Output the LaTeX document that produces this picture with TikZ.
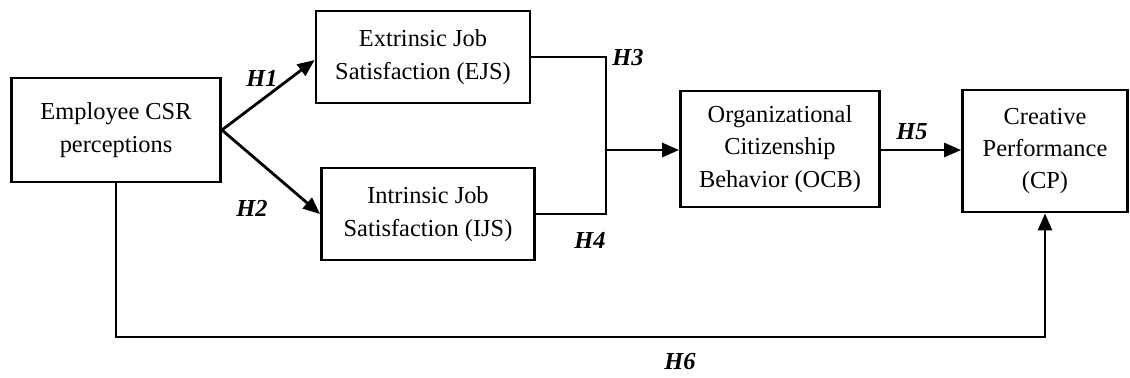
\documentclass[tikz,border=0pt]{standalone}
\usepackage{fontspec}
\setmainfont{Liberation Serif}
\usetikzlibrary{positioning, arrows.meta}

\begin{document}
\begin{tikzpicture}[
  x=0.5pt, y=-0.5pt, ->, >={Triangle[length=8.5pt,width=7pt]}, line width=1.4pt,
  box/.style={rectangle, draw=black, line width=1.4pt, align=center, inner sep=2pt,
    font=\fontsize{12.2}{16.2}\selectfont},
  hyp/.style={font=\fontsize{12.2}{14}\selectfont\bfseries\itshape}
]
\useasboundingbox (0,0) rectangle (1130,377);

% constructs
\node[box, minimum width=104.5pt, minimum height=52pt] (ecsr) at (116,130) {Employee CSR\\perceptions};
\node[box, minimum width=107pt, minimum height=46pt] (ejs) at (423,57) {Extrinsic Job\\Satisfaction (EJS)};
\node[box, minimum width=106.5pt, minimum height=46pt] (ijs) at (428,214) {Intrinsic Job\\Satisfaction (IJS)};
\node[box, minimum width=99.5pt, minimum height=58pt] (ocb) at (780,149) {Organizational\\Citizenship\\Behavior (OCB)};
\node[box, minimum width=82.5pt, minimum height=61pt] (cp) at (1045,151) {Creative\\Performance\\(CP)};

\coordinate (join) at (606,150);
\coordinate (low) at (116,337);

% paths
\draw (ecsr.east) -- (ejs.west |- 0,60);
\draw (ecsr.east) -- (ijs.west);
\draw[-] (ejs.east) -| (join);
\draw[-] (ijs.east) -| (join);
\draw (join) -- (join -| ocb.west);
\draw (ocb.east |- 0,150) -- (cp.west |- 0,150);
\draw (ecsr.south) -- (low) -| (cp.south);

% hypotheses
\node[hyp] (h1) at (262,78) {H1};
\node[hyp] (h2) at (252,208) {H2};
\node[hyp] (h3) at (628,58) {H3};
\node[hyp] (h4) at (590,240) {H4};
\node[hyp] (h5) at (912,132) {H5};
\node[hyp] (h6) at (680,362) {H6};

\end{tikzpicture}
\end{document}
